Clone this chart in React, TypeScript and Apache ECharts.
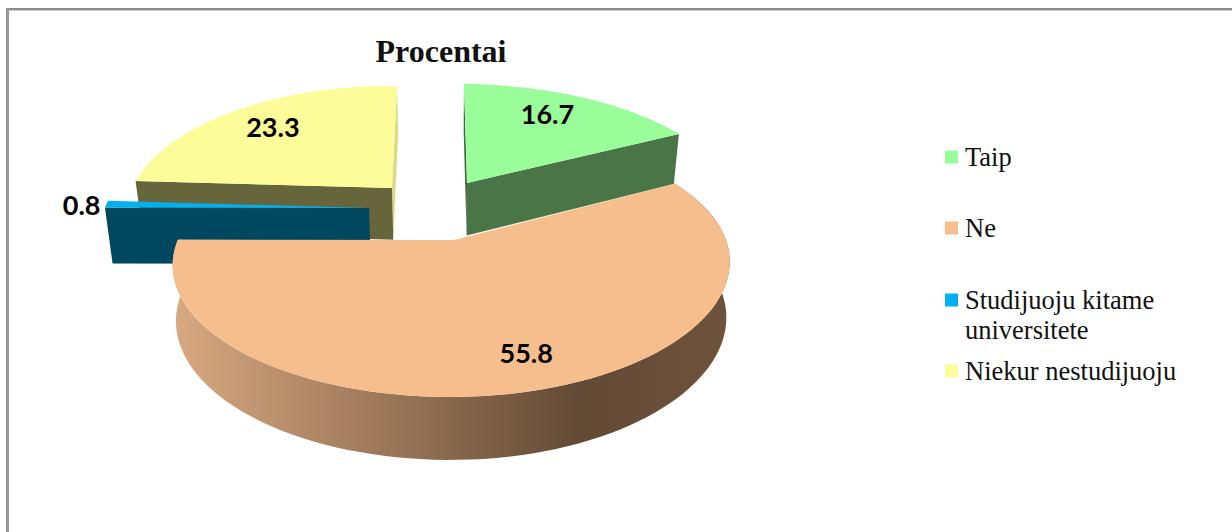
import React, { useEffect, useRef } from "react";
import * as echarts from "echarts";

const categories = ["Taip", "Ne", "Studijuoju kitame universitete", "Niekur nestudijuoju"];
const values = [16.7, 55.8, 0.8, 23.3];
const valueLabels = ["16.7", "55.8", "0.8", "23.3"];
const titleText = "Procentai";

const topColors = ["#99FD99", "#F6BE8D", "#00B0F0", "#FCFC99"];
const wallColors = ["#4A7546", "#6B5039", "#00485F", "#67653C"];
const sideColors = ["#3F6B3F", "#6B5039", "#00485F", "#DADA85"];

// Perspective of every exploded slice: apex, half axes, foreshortening.
const geometry = [
  { ax: 467, ay: 183, A: 270.6, B: 118, k: 0.19, m: 0.038, s: -3.6, t: 0, shrink: 0.022, extra: 1 },
  { ax: 454, ay: 240, A: 273.5, B: 127.3, k: 0.189, m: 0.01, s: 0, t: 3, shrink: 0.012, extra: 0 },
  { ax: 369, ay: 208, A: 251, B: 125, k: 0.19, m: 0.05, s: 0, t: 0, shrink: 0.022, extra: 3 },
  { ax: 392, ay: 188, A: 247, B: 121, k: 0.19, m: 0.05, s: 6, t: 0, shrink: 0.022, extra: 0 },
];
const labelRadius = [0.8, 0.78, 1.09, 0.75];
const labelShift = [[-15, 1], [13, 0], [0, 1], [-4, 0]];
const drawOrder = [1, 3, 2, 0]; // z2 base: yellow, then green, blue, orange

type Pt = [number, number];

function project(i: number, r: number, a: number): Pt {
  const g = geometry[i];
  const u = r * Math.sin(a);
  const v = r * Math.cos(a);
  const w = 1 + g.k * v + g.m * u;
  return [g.ax + (g.A * u + g.s * v) / w, g.ay - (g.B * v + g.t * Math.max(u, 0) ** 2) / w];
}

function lower(i: number, p: Pt): Pt {
  const g = geometry[i];
  return [p[0] + (450 - p[0]) * g.shrink, p[1] + 49 + g.extra + (p[1] - 134) * 0.053];
}

function sliceAngles(index: number, data: number[]): [number, number] {
  const total = data.reduce((a, b) => a + b, 0);
  let acc = 0;
  for (let i = 0; i < index; i++) acc += data[i];
  return [(acc / total) * Math.PI * 2, ((acc + data[index]) / total) * Math.PI * 2];
}

function arc(i: number, a: number, b: number): Pt[] {
  const n = 96;
  const out: Pt[] = [];
  for (let j = 0; j <= n; j++) out.push(project(i, 1, a + ((b - a) * j) / n));
  return out;
}

const poly = (points: Pt[], fill: any, z2: number, extra: any = {}) => ({
  type: "polygon",
  z2,
  shape: { points },
  style: { fill, ...extra },
  silent: true,
});

function renderSlice(index: number) {
  return (_params: any, api: any) => {
    const value = api.value(0);
    const data = values.map((v, i) => (i === index ? value : v));
    const [a, b] = sliceAngles(index, data);
    const apex = project(index, 0, 0);
    const outer = arc(index, a, b);
    const base = (drawOrder[index] + 1) * 10;
    const children: any[] = [];
    const first = outer[0];
    const last = outer[outer.length - 1];
    const radialWall = (p: Pt, fill: string, z: number) =>
      poly([apex, p, lower(index, p), lower(index, apex)], fill, z);

    if (index === 0) {
      children.push(radialWall(first, sideColors[0], base));
      children.push(radialWall(last, wallColors[0], base + 1));
    } else if (index === 1) {
      const rim = [...outer, ...outer.slice().reverse().map((p) => lower(index, p))];
      const gradient = new echarts.graphic.LinearGradient(0, 0, 1, 0, [
        { offset: 0, color: "#D9A981" },
        { offset: 0.73, color: "#634A35" },
        { offset: 1, color: "#6E533C" },
      ]);
      children.push(poly(rim, gradient, base));
    } else if (index === 2) {
      children.push(radialWall(first, wallColors[2], base));
    } else {
      children.push(radialWall(last, sideColors[3], base));
      children.push(radialWall(first, wallColors[3], base + 1));
    }
    children.push(poly([apex, ...outer], topColors[index], base + 2));

    const mid = (a + b) / 2;
    const at = project(index, labelRadius[index], mid);
    children.push({
      type: "text",
      z2: 100,
      silent: true,
      style: {
        x: at[0] + labelShift[index][0],
        y: at[1] + labelShift[index][1],
        text: valueLabels[index],
        fill: "#000",
        fontFamily: "Lato",
        fontWeight: "bold",
        fontSize: 27,
        align: "center",
        verticalAlign: "middle",
      },
    });
    return { type: "group", children };
  };
}

const legendFont = {
  fontFamily: "Liberation Serif",
  fontSize: 26.5,
  color: "#111",
  lineHeight: 30,
  padding: [0, 0, 0, 2],
};
const legendTops = [142, 213, 255, 356];

export default function App() {
  const ref = useRef<HTMLDivElement>(null);
  useEffect(() => {
    document.body.style.margin = "0";
    const chart = echarts.init(ref.current!, undefined, { renderer: "svg" });
    chart.setOption({
      animation: false,
      backgroundColor: "#fff",
      title: {
        text: titleText,
        left: 436,
        top: 30,
        textAlign: "center",
        textStyle: { fontFamily: "Liberation Serif", fontWeight: "bold", fontSize: 32, color: "#111" },
      },
      legend: categories.map((name, i) => ({
        data: [name],
        left: 945,
        top: legendTops[i],
        icon: "rect",
        itemWidth: 13,
        itemHeight: 13,
        itemGap: 0,
        padding: 0,
        selectedMode: false,
        textStyle: legendFont,
        formatter:
          i === 2 ? () => " \nStudijuoju kitame\nuniversitete" : undefined,
      })),
      graphic: [
        { type: "rect", silent: true, shape: { x: 6, y: 8, width: 1226, height: 2 }, style: { fill: "#8C8C8C" } },
        { type: "rect", silent: true, shape: { x: 9, y: 10, width: 1223, height: 1 }, style: { fill: "#D0D0D0" } },
        { type: "rect", silent: true, shape: { x: 6, y: 8, width: 3, height: 524 }, style: { fill: "#969696" } },
      ],
      series: categories.map((name, i) => ({
        type: "custom",
        name,
        coordinateSystem: "none",
        itemStyle: { color: topColors[i] },
        data: [[values[i]]],
        renderItem: renderSlice(i),
      })),
    });
    return () => chart.dispose();
  }, []);
  return <div ref={ref} style={{ width: 1232, height: 532 }} />;
}
